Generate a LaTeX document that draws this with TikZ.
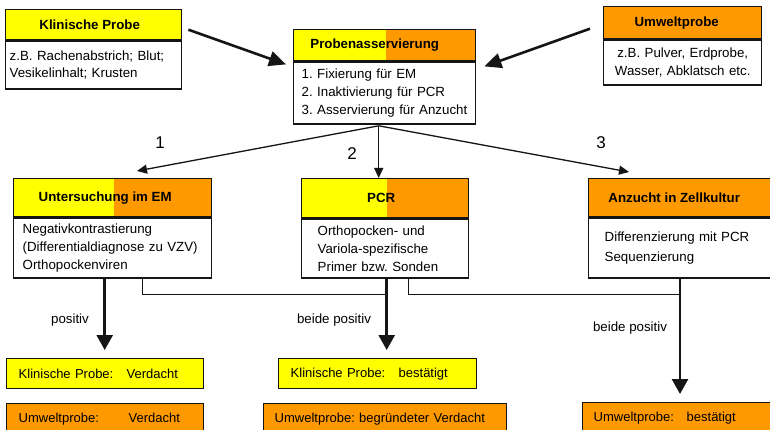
\documentclass[tikz,border=0pt]{standalone}
\usepackage{fontspec}
\setmainfont{Liberation Sans}
\usetikzlibrary{calc,arrows.meta}
\definecolor{ylw}{HTML}{FFFF00}
\definecolor{org}{HTML}{FF9900}
\definecolor{ink}{HTML}{151515}
\frenchspacing
\begin{document}
\frenchspacing
\begin{tikzpicture}[x=1pt,y=-1pt,
  hdr/.style={draw=ink, line width=1.4pt, anchor=north west, inner sep=0pt,
    font=\bfseries\fontsize{13.3}{16}\selectfont},
  splitfill/.style={path picture={
    \fill[ylw] (path picture bounding box.south west) rectangle
      ($(path picture bounding box.north west)!#1!(path picture bounding box.north east)$);
    \fill[org] ($(path picture bounding box.south west)!#1!(path picture bounding box.south east)$)
      rectangle (path picture bounding box.north east);}},
  bodybox/.style={draw=ink, line width=1.4pt, fill=white, anchor=north west,
    inner ysep=0pt, align=left, font=\frenchspacing\fontsize{13.3}{17.8}\selectfont},
  resbox/.style={draw=ink, line width=1.4pt, anchor=north west, inner ysep=0pt,
    minimum height=30pt, align=left, font=\frenchspacing\fontsize{13}{15}\selectfont},
  bigarr/.style={draw=ink, line width=2.6pt, -{Triangle[length=17pt,width=15pt]}},
  thinarr/.style={draw=ink, line width=1.3pt, -{Triangle[length=10pt,width=9pt]}},
  thickarr/.style={draw=ink, line width=2.6pt, -{Triangle[length=15pt,width=16pt]}, shorten >=8pt},
  joinline/.style={draw=ink, line width=1.2pt},
  num/.style={font=\fontsize{17}{20}\selectfont, inner sep=0pt},
  lbl/.style={font=\fontsize{13.3}{16}\selectfont, inner sep=0pt}]
\useasboundingbox (0,0) rectangle (770,430);
\clip (0,0) rectangle (770,430);
\fill[white] (0,0) rectangle (770,430);

% Klinische Probe
\node[hdr, fill=ylw, minimum width=176pt, minimum height=30pt] (kph) at (5,9) {\hspace*{-8pt}Klinische Probe};
\node[bodybox, text width=168pt, inner xsep=4pt, minimum height=48pt] (kpb) at (kph.south west)
  {z.B. Rachenabstrich; Blut;\\Vesikelinhalt; Krusten};

% Probenasservierung
\node[hdr, splitfill=0.505, minimum width=182pt, minimum height=31pt] (pbh) at (293,29) {\hspace*{-20pt}Probenasservierung};
\node[bodybox, text width=166pt, inner xsep=8pt, minimum height=62pt] (pbb) at (pbh.south west)
  {1. Fixierung f\"ur EM\\2. Inaktivierung f\"ur PCR\\3. Asservierung f\"ur Anzucht};

% Umweltprobe
\node[hdr, fill=org, minimum width=158pt, minimum height=32pt] (umh) at (603,6) {\hspace*{-12pt}Umweltprobe};
\node[bodybox, align=center, text width=150pt, inner xsep=4pt, minimum height=45pt] (umb) at (umh.south west)
  {z.B. Pulver, Erdprobe,\\Wasser, Abklatsch etc.};

% Untersuchung im EM
\node[hdr, splitfill=0.505, minimum width=198pt, minimum height=38pt] (emh) at (13,178) {\hspace*{-15pt}Untersuchung im EM};
\node[bodybox, text width=180pt, inner xsep=9pt, minimum height=60pt] (emb) at (emh.south west)
  {Negativkontrastierung\\(Differentialdiagnose zu VZV)\\Orthopockenviren};

% PCR
\node[hdr, splitfill=0.51, minimum width=167pt, minimum height=39pt] (pch) at (301,178) {\hspace*{-8pt}PCR};
\node[bodybox, text width=135pt, inner xsep=16pt, minimum height=59pt] (pcb) at (pch.south west)
  {Orthopocken- und\\Variola-spezifische\\Primer bzw. Sonden};

% Anzucht in Zellkultur
\node[hdr, fill=org, minimum width=190pt, minimum height=38pt] (anh) at (588,178) {\hspace*{-19pt}Anzucht in Zellkultur};
\node[bodybox, text width=158pt, inner xsep=16pt, minimum height=60pt,
  font=\frenchspacing\fontsize{13.3}{20}\selectfont] (anb) at (anh.south west)
  {Differenzierung mit PCR\\Sequenzierung};

% results
\node[resbox, fill=ylw, text width=173pt, inner xsep=12pt] (kv) at (6,358)
  {\makebox[108pt][l]{Klinische Probe:}Verdacht};
\node[resbox, fill=org, text width=173pt, inner xsep=12pt] (uv) at (6,403)
  {\makebox[110pt][l]{Umweltprobe:}Verdacht};
\node[resbox, fill=ylw, text width=174pt, inner xsep=12pt] (kb) at (278,358)
  {\makebox[108pt][l]{Klinische Probe:}best\"atigt};
\node[resbox, fill=org, text width=221pt, inner xsep=11pt] (ub) at (263,403)
  {Umweltprobe: begr\"undeter Verdacht};
\node[resbox, fill=org, text width=173pt, inner xsep=11pt] (us) at (582,402)
  {\makebox[93pt][l]{Umweltprobe:}best\"atigt};

% inputs to Probenasservierung
\draw[bigarr] ($(kph.east)+(6,5)$) -- ($(pbb.north west)+(-7,3)$);
\draw[bigarr] ($(umh.west)+(-13,6)$) -- ($(pbb.north east)+(8,5)$);

% three branches
\coordinate (o) at ($(pbb.south)+(-6,1)$);
\draw[thinarr] (o) -- ($(emh.north west)+(124,-7)$);
\draw[thinarr] (o) -- (o |- pch.north);
\draw[thinarr] (o) -- ($(anh.north west)+(41,-6)$);
\node[num] (n1) at (160,143) {1};
\node[num] (n2) at (352,154) {2};
\node[num] (n3) at (601,143) {3};

% result arrows
\coordinate (a1) at ($(emb.south)+(-8,0)$);
\coordinate (a2) at ($(pcb.south)+(1.5,0)$);
\coordinate (a3) at ($(anb.south west)+(92,0)$);
\draw[joinline] ($(emb.south)+(30,0)$) |- ($(a2)+(0,16)$);
\draw[joinline] ($(pcb.south)+(23.5,0)$) |- ($(a3)+(0,16)$);
\draw[thickarr] (a1) -- (a1 |- kv.north);
\draw[thickarr] (a2) -- (a2 |- kb.north);
\draw[thickarr] (a3) -- (a3 |- us.north);

\node[lbl] (l1) at (70,320) {positiv};
\node[lbl] (l2) at (334,320) {beide positiv};
\node[lbl] (l3) at (630,328) {beide positiv};
\end{tikzpicture}
\end{document}
